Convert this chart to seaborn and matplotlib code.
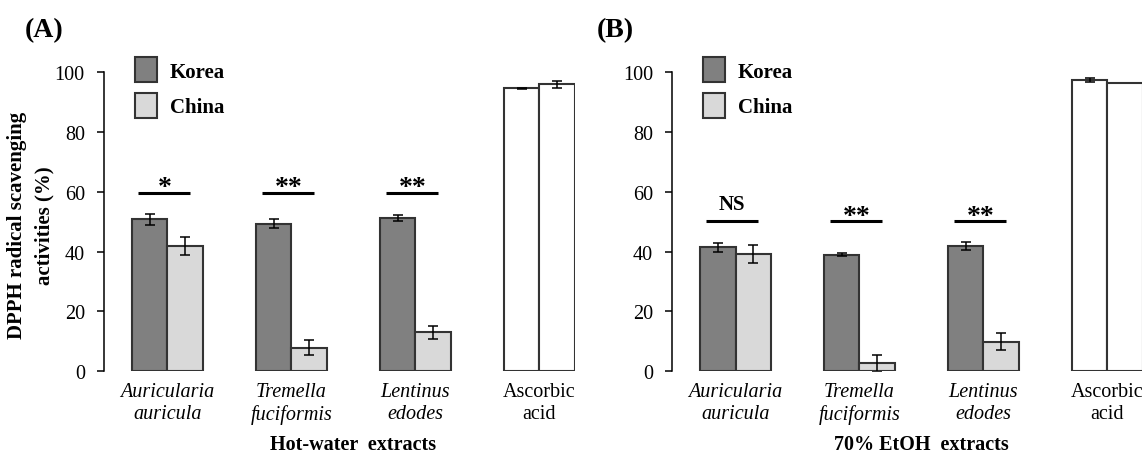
"""
DPPH radical scavenging activities of mushroom extracts, Korea vs China.
(A) hot-water extracts, (B) 70% EtOH extracts.
"""

import matplotlib
matplotlib.use("Agg")
import matplotlib.pyplot as plt
import pandas as pd
import seaborn as sns
from matplotlib.patches import Patch

CATEGORIES = ["Auricularia\nauricula", "Tremella\nfuciformis", "Lentinus\nedodes", "Ascorbic\nacid"]
ORIGINS = ["Korea", "China"]

# (A) hot-water extracts
HOT_KOREA = [50.8, 49.4, 51.2, 94.6]
HOT_KOREA_SD = [1.8, 1.5, 1.1, 0.3]
HOT_CHINA = [41.8, 7.9, 13.0, 96.0]
HOT_CHINA_SD = [3.0, 2.4, 2.2, 1.2]
HOT_MARKS = ["*", "**", "**"]

# (B) 70% EtOH extracts
ETOH_KOREA = [41.4, 39.0, 41.8, 97.3]
ETOH_KOREA_SD = [1.4, 0.4, 1.4, 0.7]
ETOH_CHINA = [39.1, 2.7, 9.9, 96.4]
ETOH_CHINA_SD = [3.0, 2.8, 2.8, 0.0]
ETOH_MARKS = ["NS", "**", "**"]

KOREA_COLOR = "#808080"
CHINA_COLOR = "#d9d9d9"
EDGE = "#333333"

sns.set_theme(style="ticks")
plt.rcParams["font.family"] = ["Liberation Serif", "DejaVu Serif"]
plt.rcParams.update({
    "text.color": "black",
    "axes.labelcolor": "black",
    "xtick.color": "black",
    "ytick.color": "black",
})


def draw_panel(ax, korea, korea_sd, china, china_sd, marks, mark_y, xlabel, show_ylabel):
    df = pd.DataFrame({
        "category": CATEGORIES * 2,
        "origin": ["Korea"] * len(CATEGORIES) + ["China"] * len(CATEGORIES),
        "value": korea + china,
    })
    sns.barplot(
        data=df, x="category", y="value", hue="origin",
        order=CATEGORIES, hue_order=ORIGINS,
        palette={"Korea": KOREA_COLOR, "China": CHINA_COLOR},
        saturation=1, width=0.573, errorbar=None,
        edgecolor=EDGE, linewidth=1.5, legend=False, ax=ax,
    )

    for container, sd in zip(ax.containers, [korea_sd, china_sd]):
        patches = list(container.patches)
        patches[-1].set_facecolor("white")  # ascorbic acid reference
        xs, ys, es = [], [], []
        for p, e in zip(patches, sd):
            if e > 0:
                xs.append(p.get_x() + p.get_width() / 2)
                ys.append(p.get_height())
                es.append(e)
        ax.errorbar(xs, ys, yerr=es, fmt="none", ecolor="black",
                    elinewidth=1.1, capsize=3.3, capthick=1.1, zorder=5)

    # significance markers
    for i, m in enumerate(marks):
        ax.hlines(mark_y, i - 0.24, i + 0.18, color="black", lw=2.2)
        if m == "NS":
            ax.text(i - 0.03, mark_y + 4.0, m, ha="center", va="baseline",
                    fontsize=15, fontweight="bold")
        else:
            ax.text(i - 0.02, mark_y - 0.5, m, ha="center", va="baseline",
                    fontsize=20, fontweight="bold")

    ax.set_xlim(-0.51, 3.29)
    ax.set_ylim(0, 100)
    ax.set_yticks(range(0, 101, 20))
    ax.tick_params(axis="y", length=5, width=1.1, pad=9, labelsize=14.5)
    ax.tick_params(axis="x", length=0, pad=8, labelsize=14.5)
    for lbl in ax.get_xticklabels()[:3]:
        lbl.set_style("italic")
    for lbl in ax.get_xticklabels():
        lbl.set_linespacing(1.2)
    sns.despine(ax=ax, bottom=True)
    ax.spines["left"].set_linewidth(1.1)
    ax.spines["left"].set_color("black")

    ax.set_xlabel("")
    ax.text(1.5, -0.21, xlabel, transform=ax.get_xaxis_transform(),
            ha="center", va="top", fontsize=14.5, fontweight="bold")
    if show_ylabel:
        ax.set_ylabel("DPPH radical scavenging\nactivities (%)", fontsize=15,
                      fontweight="bold", linespacing=1.45, va="center")
        ax.yaxis.set_label_coords(-0.156, 0.49)
    else:
        ax.set_ylabel("")

    handles = [Patch(facecolor=KOREA_COLOR, edgecolor=EDGE, lw=1.5),
               Patch(facecolor=CHINA_COLOR, edgecolor=EDGE, lw=1.5)]
    ax.legend(handles, ORIGINS, loc="upper left", bbox_to_anchor=(0.065, 1.05),
              frameon=False, borderpad=0, borderaxespad=0,
              handlelength=1.06, handleheight=1.44, handletextpad=0.62,
              labelspacing=0.53, prop={"weight": "bold", "size": 15})


fig = plt.figure(figsize=(11.42, 4.56), dpi=100)
ax_a = fig.add_axes([0.0913, 0.1836, 0.4125, 0.6557])
ax_b = fig.add_axes([0.5887, 0.1836, 0.4125, 0.6557])

draw_panel(ax_a, HOT_KOREA, HOT_KOREA_SD, HOT_CHINA, HOT_CHINA_SD, HOT_MARKS, 59.7,
           "Hot-water  extracts", True)
draw_panel(ax_b, ETOH_KOREA, ETOH_KOREA_SD, ETOH_CHINA, ETOH_CHINA_SD, ETOH_MARKS, 50.2,
           "70% EtOH  extracts", False)

fig.text(25 / 1142, 1 - 31 / 456, "(A)", ha="left", va="center", fontsize=20, fontweight="bold")
fig.text(597 / 1142, 1 - 31 / 456, "(B)", ha="left", va="center", fontsize=20, fontweight="bold")

fig.savefig("out.png", dpi=100)
